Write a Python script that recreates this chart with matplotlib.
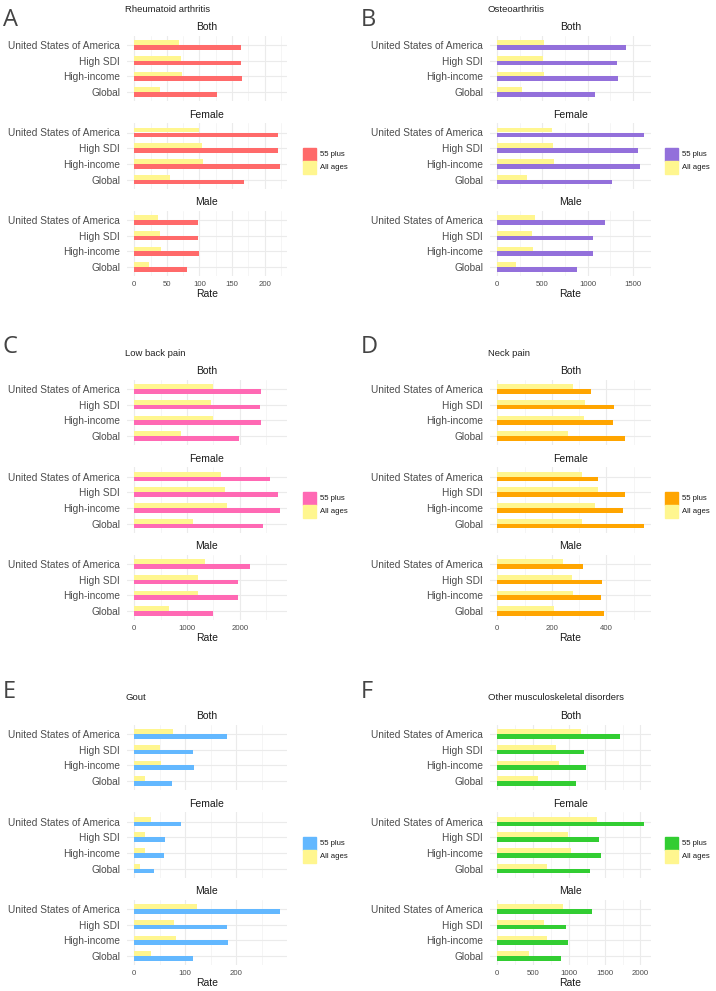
import numpy as np
import matplotlib
matplotlib.use("Agg")
import matplotlib.pyplot as plt
from matplotlib.ticker import MultipleLocator
from matplotlib.patches import Rectangle

# ---- data (rate per 100k), order within each sex: USA, High SDI, High-income, Global
locations = ["United States of America", "High SDI", "High-income", "Global"]
sexes = ["Both", "Female", "Male"]

ra_55 = [163, 163, 165.5, 126.5, 221, 220, 223, 167.5, 97, 97.5, 98.5, 80.5]
ra_all = [68.5, 71, 73.5, 39, 99, 103.5, 106, 55.5, 36.5, 39, 40.5, 23]

oa_55 = [1425, 1327, 1338, 1084, 1622, 1560, 1578, 1273, 1196, 1065, 1065, 880]
oa_all = [513, 502, 520, 269, 611, 622, 633, 331, 415, 385, 396, 207]

lbp_55 = [2407, 2383, 2395, 1994, 2580, 2735, 2759, 2444, 2198, 1975, 1969, 1494]
lbp_all = [1500, 1463, 1500, 889, 1642, 1722, 1759, 1123, 1333, 1210, 1216, 660]

neck_55 = [343, 429, 423, 470, 370, 469, 460, 537, 313, 383, 381, 393]
neck_all = [277, 321, 318, 259, 310, 368, 360, 310, 241, 275, 276, 208]

gout_55 = [182, 116, 117, 75, 92.7, 59.4, 58.8, 39.6, 285.6, 181.5, 184.7, 115]
gout_all = [77, 50.5, 52, 22, 32.6, 22, 22, 11, 123, 78.6, 81.8, 32.6]

omsk_55 = [1711, 1206, 1243, 1101, 2046, 1427, 1454, 1289, 1317, 959, 995, 890]
omsk_all = [1165, 826, 862, 569, 1399, 995, 1032, 688, 922, 656, 693, 445]

panels = [
    ("A", "Rheumatoid arthritis", ra_55, ra_all, "#FF6A6A", 50),
    ("B", "Osteoarthritis", oa_55, oa_all, "#9370DB", 500),
    ("C", "Low back pain", lbp_55, lbp_all, "#FF69B4", 1000),
    ("D", "Neck pain", neck_55, neck_all, "#FFA500", 200),
    ("E", "Gout", gout_55, gout_all, "#63B8FF", 100),
    ("F", "Other musculoskeletal disorders", omsk_55, omsk_all, "#32CD32", 500),
]
ALL_COLOR = "#FFF68F"

W, H = 716, 991
fig = plt.figure(figsize=(W / 100, H / 100), dpi=100)
plt.rcParams["font.family"] = ["Liberation Sans", "DejaVu Sans"]


def fx(px):
    return px / W


def fy(py):
    return 1 - py / H


col_left = [127, 490]
col_width = [160, 161]
row_usa = [45, 389, 734]          # y (px) of first category row in "Both" facet
letter_y = [20, 347, 692]
step = 15.67                      # px per category
facet_gap = 87.5
facet_h = 4.2 * step

for i, (letter, title, v55, vall, color, major) in enumerate(panels):
    r, c = divmod(i, 2)
    left = col_left[c]
    width = col_width[c]
    x0 = c * 358
    vmax = max(max(v55), max(vall))
    xlim = (-0.05 * vmax, 1.05 * vmax)

    fig.text(fx(x0 + 3), fy(letter_y[r]), letter, fontsize=17, color="#444444",
             ha="left", va="center", family=["Open Sans", "DejaVu Sans"])
    fig.text(fx(left - 2), fy(row_usa[r] - 36), title, fontsize=6.8,
             color="#222222", ha="left", va="center")

    for s, sex in enumerate(sexes):
        usa_y = row_usa[r] + s * facet_gap
        top = usa_y - 0.6 * step
        ax = fig.add_axes([fx(left), fy(top + facet_h), fx(width), facet_h / H])
        ypos = np.arange(4)
        ax.barh(ypos - 0.15, vall[s * 4:(s + 1) * 4], height=0.3, color=ALL_COLOR,
                zorder=3)
        ax.barh(ypos + 0.15, v55[s * 4:(s + 1) * 4], height=0.3, color=color,
                zorder=3)
        ax.set_ylim(3.6, -0.6)
        ax.set_xlim(*xlim)
        ax.set_yticks(ypos)
        ax.set_yticklabels(locations, fontsize=7.3, color="#4D4D4D")
        ax.xaxis.set_major_locator(MultipleLocator(major))
        ax.xaxis.set_minor_locator(MultipleLocator(major / 2))
        ax.grid(True, which="major", color="#EBEBEB", lw=0.8, zorder=0)
        ax.grid(True, which="minor", axis="x", color="#F2F2F2", lw=0.5, zorder=0)
        ax.tick_params(which="both", length=0, pad=5)
        ax.tick_params(axis="x", which="both", labelsize=5.6, labelcolor="#4D4D4D",
                       pad=3)
        for sp in ax.spines.values():
            sp.set_visible(False)
        ax.set_title(sex, fontsize=7.5, color="#1A1A1A", pad=4)
        if s < 2:
            ax.tick_params(axis="x", labelbottom=False)
        else:
            ax.set_xlabel("Rate", fontsize=7.5, color="#1A1A1A", labelpad=1)

    # legend
    leg_top = row_usa[r] + 103
    lx = x0 + (303 if c == 0 else 307)
    for k, (lab, colr) in enumerate([("55 plus", color), ("All ages", ALL_COLOR)]):
        y_top = leg_top + k * 13
        fig.patches.append(Rectangle((fx(lx), fy(y_top + 13)), fx(13), 13 / H,
                                     transform=fig.transFigure, color=colr,
                                     figure=fig))
        fig.text(fx(lx + 17), fy(y_top + 6.5), lab, fontsize=5.6, color="#1A1A1A",
                 ha="left", va="center")

fig.savefig("out.png", dpi=100, facecolor="white")
